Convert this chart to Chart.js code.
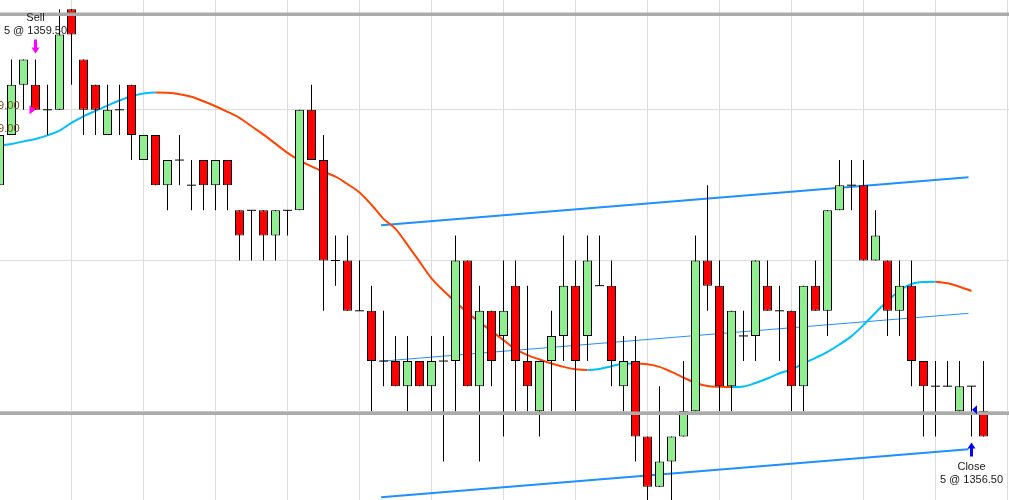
<!DOCTYPE html>
<html>
<head>
<meta charset="utf-8">
<script src="https://cdn.jsdelivr.net/npm/chart.js@4.4.1/dist/chart.umd.min.js"></script>
<style>
html,body{margin:0;padding:0;background:#fff;overflow:hidden}
#wrap{width:1009px;height:500px;position:relative}
</style>
</head>
<body>
<div id="wrap"><canvas id="c"></canvas></div>
<script>
// ---------- DATA ----------
const openPrices = [1358.75,1359.25,1359.75,1359.75,1359.50,1359.50,1360.50,1360.00,1359.75,1359.25,
  1359.50,1359.75,1359.00,1359.25,1358.75,1359.00,1358.75,1359.00,1358.75,1359.00,
  1358.50,1358.50,1358.50,1358.25,1358.50,1358.50,1359.50,1359.00,1358.00,1358.00,
  1357.50,1357.50,1357.00,1357.00,1356.75,1357.00,1356.75,1357.00,1357.00,1358.00,
  1356.75,1357.50,1357.25,1357.75,1357.00,1356.50,1357.00,1357.25,1357.75,1357.25,
  1357.75,1357.75,1356.75,1357.00,1356.25,1355.75,1356.00,1356.25,1356.50,1358.00,
  1357.75,1356.75,1357.25,1357.25,1357.75,1357.50,1357.50,1356.75,1357.75,1357.50,
  1358.50,1358.75,1358.75,1358.00,1358.00,1357.50,1357.75,1357.00,1356.75,1356.75,
  1356.50,1356.75,1356.50];
const highPrices = [1359.25,1360.00,1360.00,1360.00,1359.75,1360.50,1360.50,1360.00,1359.75,1359.75,
  1359.75,1359.75,1359.25,1359.25,1359.00,1359.25,1359.00,1359.00,1359.00,1359.00,
  1358.50,1358.50,1358.50,1358.50,1358.50,1359.50,1359.75,1359.25,1358.25,1358.25,
  1358.00,1357.75,1357.50,1357.25,1357.25,1357.00,1357.25,1357.25,1358.25,1358.00,
  1357.75,1357.50,1358.00,1358.00,1357.75,1357.00,1357.50,1358.25,1358.00,1358.25,
  1358.25,1358.00,1357.25,1357.25,1356.25,1356.75,1356.25,1357.00,1358.25,1358.75,
  1358.00,1357.50,1357.50,1358.00,1358.00,1357.75,1357.50,1357.75,1358.00,1358.50,
  1359.00,1359.00,1359.00,1358.50,1358.00,1358.00,1358.00,1357.00,1357.00,1357.00,
  1357.00,1356.75,1357.00];
const lowPrices = [1358.75,1359.25,1359.50,1359.50,1359.25,1359.50,1359.75,1359.25,1359.25,1359.25,
  1359.25,1359.00,1359.00,1358.75,1358.50,1358.75,1358.50,1358.50,1358.50,1358.50,
  1358.00,1358.00,1358.00,1358.00,1358.25,1358.50,1359.00,1357.50,1357.75,1357.50,
  1357.50,1356.50,1356.75,1356.75,1356.50,1356.75,1356.50,1356.00,1356.50,1356.75,
  1356.00,1356.75,1356.25,1356.50,1356.50,1356.25,1356.50,1357.00,1356.50,1357.00,
  1357.75,1356.75,1356.50,1356.00,1355.50,1355.75,1355.50,1356.25,1356.50,1357.50,
  1356.50,1356.50,1357.00,1357.00,1357.50,1357.00,1356.50,1356.50,1357.50,1357.25,
  1358.50,1358.50,1358.00,1358.00,1357.25,1357.25,1356.75,1356.25,1356.25,1356.75,
  1356.50,1356.25,1356.25];
const closePrices = [1359.25,1359.75,1360.00,1359.50,1359.50,1360.25,1360.25,1359.50,1359.50,1359.50,
  1359.50,1359.25,1359.25,1358.75,1359.00,1359.00,1358.75,1358.75,1359.00,1358.75,
  1358.25,1358.50,1358.25,1358.50,1358.50,1359.50,1359.00,1358.00,1358.00,1357.50,
  1357.50,1357.00,1357.00,1356.75,1357.00,1356.75,1357.00,1357.00,1358.00,1356.75,
  1357.50,1357.00,1357.50,1357.00,1356.75,1357.00,1357.25,1357.75,1357.00,1358.00,
  1357.75,1357.00,1357.00,1356.25,1355.75,1356.00,1356.25,1356.50,1358.00,1357.75,
  1356.75,1357.50,1357.25,1358.00,1357.50,1357.50,1356.75,1357.75,1357.50,1358.50,
  1358.75,1358.75,1358.00,1358.25,1357.50,1357.75,1357.00,1356.75,1356.75,1356.75,
  1356.75,1356.75,1356.25];

// moving average (one value per bar, bars 0..81)
const maValues = [1359.146,1359.160,1359.186,1359.210,1359.246,1359.293,1359.370,1359.435,1359.489,1359.542,
  1359.592,1359.635,1359.662,1359.672,1359.669,1359.655,1359.629,1359.585,1359.535,1359.480,
  1359.420,1359.336,1359.253,1359.163,1359.071,1358.997,1358.937,1358.884,1358.834,1358.761,
  1358.678,1358.555,1358.415,1358.315,1358.156,1357.989,1357.823,1357.700,1357.590,1357.481,
  1357.388,1357.298,1357.208,1357.118,1357.059,1357.016,1356.976,1356.942,1356.919,1356.912,
  1356.922,1356.949,1356.974,1356.976,1356.969,1356.942,1356.892,1356.836,1356.782,1356.752,
  1356.744,1356.741,1356.747,1356.782,1356.826,1356.879,1356.916,1356.976,1357.032,1357.092,
  1357.165,1357.248,1357.358,1357.481,1357.597,1357.700,1357.767,1357.787,1357.790,1357.774,
  1357.740,1357.697];

// regression channel (bar position at start and end)
const channelX = [31.8, 80.75];
const channelUpper = [1358.351, 1358.828];
const channelMiddle = [1356.998, 1357.475];
const channelLower = [1355.644, 1356.122];

// horizontal price level lines
const levelLines = [1360.45, 1356.48];

// trades
const tradeBar = [3, 81];
const tradePrice = [1359.50, 1356.50];
const tradeLabel = ['Sell', 'Close'];
const tradeQty = [5, 5];
const tradeColor = ['#FF00FF', '#0000FF'];
const tradeArrow = ['down', 'up'];

// cut-off price labels on the left edge
const sideLabelText = ['1359.00', '1359.00'];
const sideLabelPrice = [1359.50, 1359.25];

// grid lines
const gridBars = [0, 6, 12, 18, 24, 30, 36, 42, 48, 54, 60, 66, 72, 78, 84];
const gridPrices = [1361.00, 1359.50, 1358.00, 1356.50, 1355.00];

// visible range
const X_MIN = 0.0417, X_MAX = 84.125;
const Y_MAX = 1360.5925, Y_MIN = 1355.6174;

// ---------- BUILD ----------
const GREEN = '#90EE90', RED = '#FF0000';
const bodyData = [], wickData = [], dojiData = [], bodyColors = [];
openPrices.forEach((o, i) => {
  const c = closePrices[i];
  wickData.push({x: i, y: [lowPrices[i], highPrices[i]]});
  if (o === c) {
    dojiData.push({x: i, y: o});
    bodyData.push({x: i, y: null});
  } else {
    bodyData.push({x: i, y: [o, c]});
  }
  bodyColors.push(c > o ? GREEN : RED);
});
const maData = maValues.map((v, i) => ({x: i, y: v}));
const CYAN = '#00BFFF', ORANGE = '#FF4500';

const tradePlugin = {
  id: 'trades',
  afterDatasetsDraw(chart) {
    const {ctx, scales: {x, y}} = chart;
    ctx.save();
    ctx.font = '11px "Liberation Sans", Arial, sans-serif';
    ctx.textAlign = 'center';
    ctx.textBaseline = 'middle';
    tradeBar.forEach((b, k) => {
      const cx = x.getPixelForValue(b);
      const py = y.getPixelForValue(tradePrice[k]);
      ctx.fillStyle = tradeColor[k];
      // triangle marker at fill price
      ctx.beginPath();
      if (tradeArrow[k] === 'down') {
        ctx.moveTo(cx, py); ctx.lineTo(cx - 6, py - 4.5); ctx.lineTo(cx - 6, py + 4.5);
      } else {
        ctx.moveTo(cx + 0.5, py - 1.5); ctx.lineTo(cx + 5.5, py - 6); ctx.lineTo(cx + 5.5, py + 3);
      }
      ctx.closePath(); ctx.fill();
      // arrow
      const d = tradeArrow[k] === 'down' ? 1 : -1;
      const tipY = d === 1 ? y.getPixelForValue(highPrices[b]) - 6 : y.getPixelForValue(lowPrices[b]) + 6;
      const ax = cx;
      ctx.beginPath();
      ctx.moveTo(ax, tipY);
      ctx.lineTo(ax + 4, tipY - 6 * d);
      ctx.lineTo(ax + 1.5, tipY - 6 * d);
      ctx.lineTo(ax + 1.5, tipY - 14 * d);
      ctx.lineTo(ax - 1.5, tipY - 14 * d);
      ctx.lineTo(ax - 1.5, tipY - 6 * d);
      ctx.lineTo(ax - 4, tipY - 6 * d);
      ctx.closePath(); ctx.fill();
      // texts
      ctx.fillStyle = '#1a1a1a';
      const l2 = tradeQty[k] + ' @ ' + tradePrice[k].toFixed(2);
      if (d === 1) {
        const top = tipY - 14;
        ctx.fillText(l2, cx, top - 9);
        ctx.fillText(tradeLabel[k], cx, top - 22);
      } else {
        const bot = tipY + 14;
        ctx.fillText(tradeLabel[k], cx, bot + 11);
        ctx.fillText(l2, cx, bot + 24);
      }
    });
    // side labels
    ctx.textAlign = 'right';
    ctx.textBaseline = 'alphabetic';
    ctx.fillStyle = '#6e5010';
    ctx.fillText(sideLabelText[0], 19.5, y.getPixelForValue(sideLabelPrice[0]) - 1);
    ctx.fillText(sideLabelText[1], 19.5, y.getPixelForValue(sideLabelPrice[1]) - 3);
    ctx.restore();
  }
};

new Chart(document.getElementById('c'), {
  type: 'bar',
  data: {
    datasets: [
      {type: 'line', data: channelX.map((v, i) => ({x: v, y: channelUpper[i]})), borderColor: '#1E90FF', borderWidth: 2, pointRadius: 0, order: 6},
      {type: 'line', data: channelX.map((v, i) => ({x: v, y: channelMiddle[i]})), borderColor: '#1E90FF', borderWidth: 1, pointRadius: 0, order: 6},
      {type: 'line', data: channelX.map((v, i) => ({x: v, y: channelLower[i]})), borderColor: '#1E90FF', borderWidth: 2, pointRadius: 0, order: 6},
      {type: 'line', data: maData, borderWidth: 2, pointRadius: 0, borderColor: CYAN, cubicInterpolationMode: 'monotone',
        segment: {borderColor: c => c.p1.parsed.y > c.p0.parsed.y ? CYAN : ORANGE}, order: 5},
      {type: 'bar', data: wickData, backgroundColor: '#000', borderWidth: 0, barThickness: 1, grouped: false, inflateAmount: 0, order: 4},
      {type: 'bar', data: bodyData, backgroundColor: bodyColors, borderColor: '#000', borderWidth: 1, borderSkipped: false,
        barThickness: 9, grouped: false, inflateAmount: 0, order: 3},
      {type: 'line', data: dojiData, showLine: false, pointStyle: 'line', pointRadius: 4.5, pointBorderColor: '#000',
        pointBorderWidth: 1, pointHoverRadius: 4.5, order: 3},
      ...levelLines.map(v => ({type: 'line', data: [{x: X_MIN - 1, y: v}, {x: X_MAX + 1, y: v}], borderColor: '#ABABAB',
        borderWidth: 3.5, pointRadius: 0, order: 1}))
    ]
  },
  options: {
    responsive: true,
    maintainAspectRatio: false,
    animation: false,
    layout: {padding: 0, autoPadding: false},
    plugins: {legend: {display: false}, tooltip: {enabled: false}},
    scales: {
      x: {
        type: 'linear', min: X_MIN, max: X_MAX, offset: false,
        grid: {color: '#dddddd', lineWidth: 1, drawTicks: false, offset: false},
        border: {display: false},
        ticks: {display: false},
        afterBuildTicks: s => { s.ticks = gridBars.map(v => ({value: v})); }
      },
      y: {
        type: 'linear', min: Y_MIN, max: Y_MAX,
        grid: {color: '#dddddd', lineWidth: 1, drawTicks: false},
        border: {display: false},
        ticks: {display: false},
        afterBuildTicks: s => { s.ticks = gridPrices.map(v => ({value: v})); }
      }
    }
  },
  plugins: [tradePlugin]
});
</script>
</body>
</html>
